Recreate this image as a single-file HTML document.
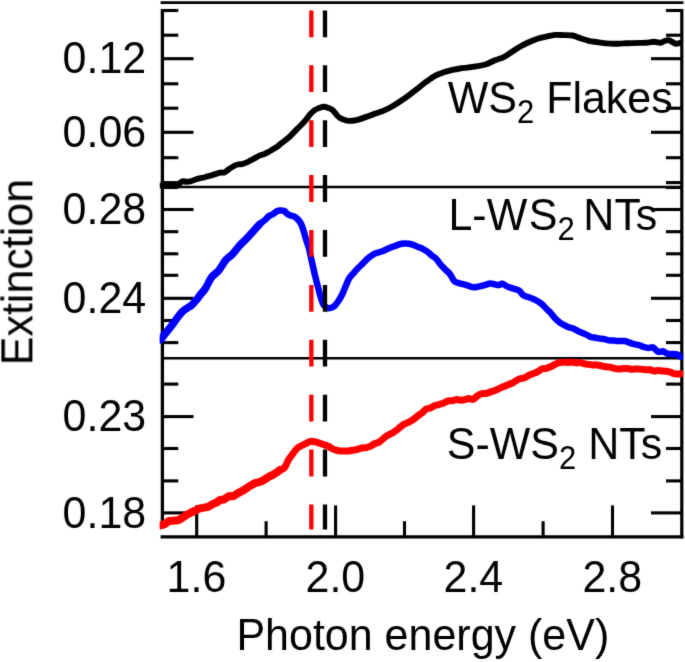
<!DOCTYPE html>
<html><head><meta charset="utf-8"><style>
html,body{margin:0;padding:0;background:#fff;}
svg{display:block;}
#w{width:685px;height:662px;}
text{font-family:"Liberation Sans",sans-serif;font-size:43px;fill:#000;}
</style></head><body><div id="w">
<svg width="685" height="662" viewBox="0 0 685 662">
<defs><filter id="bl" x="0" y="0" width="685" height="662" filterUnits="userSpaceOnUse" color-interpolation-filters="sRGB"><feConvolveMatrix order="3" kernelMatrix="0.01134 0.08382 0.01134 0.08382 0.61935 0.08382 0.01134 0.08382 0.01134" divisor="1" edgeMode="duplicate" preserveAlpha="false"/></filter></defs>
<g filter="url(#bl)">
<rect width="685" height="662" fill="#fff"/>
<g stroke="#000" fill="none">
<line x1="160.6" y1="2.65" x2="683.5" y2="2.65" stroke-width="2.9"/>
<line x1="162.4" y1="9" x2="162.4" y2="525" stroke-width="3.3"/>
<line x1="681.8" y1="9" x2="681.8" y2="538.3" stroke-width="3.2"/>
<line x1="160.6" y1="536.8" x2="683.4" y2="536.8" stroke-width="3.2"/>
<line x1="161" y1="187.0" x2="681" y2="187.0" stroke-width="2.6"/>
<line x1="161" y1="358.25" x2="681" y2="358.25" stroke-width="2.5"/>
<line x1="162.4" y1="10.5" x2="178.3" y2="10.5" stroke-width="3.1"/>
<line x1="681.8" y1="10.5" x2="666.0" y2="10.5" stroke-width="3.1"/>
<line x1="162.4" y1="35.2" x2="178.3" y2="35.2" stroke-width="3.1"/>
<line x1="681.8" y1="35.2" x2="666.0" y2="35.2" stroke-width="3.1"/>
<line x1="162.4" y1="58.7" x2="193.5" y2="58.7" stroke-width="3.1"/>
<line x1="681.8" y1="58.7" x2="651.0" y2="58.7" stroke-width="3.1"/>
<line x1="162.4" y1="83.8" x2="178.3" y2="83.8" stroke-width="3.1"/>
<line x1="681.8" y1="83.8" x2="666.0" y2="83.8" stroke-width="3.1"/>
<line x1="162.4" y1="108.2" x2="178.3" y2="108.2" stroke-width="3.1"/>
<line x1="681.8" y1="108.2" x2="666.0" y2="108.2" stroke-width="3.1"/>
<line x1="162.4" y1="132.3" x2="193.5" y2="132.3" stroke-width="3.1"/>
<line x1="681.8" y1="132.3" x2="651.0" y2="132.3" stroke-width="3.1"/>
<line x1="162.4" y1="157.7" x2="178.3" y2="157.7" stroke-width="3.1"/>
<line x1="681.8" y1="157.7" x2="666.0" y2="157.7" stroke-width="3.1"/>
<line x1="162.4" y1="182.6" x2="178.3" y2="182.6" stroke-width="3.1"/>
<line x1="681.8" y1="182.6" x2="666.0" y2="182.6" stroke-width="3.1"/>
<line x1="162.4" y1="187.5" x2="178.3" y2="187.5" stroke-width="3.1"/>
<line x1="681.8" y1="187.5" x2="666.0" y2="187.5" stroke-width="3.1"/>
<line x1="162.4" y1="209.5" x2="193.5" y2="209.5" stroke-width="3.1"/>
<line x1="681.8" y1="209.5" x2="651.0" y2="209.5" stroke-width="3.1"/>
<line x1="162.4" y1="231.7" x2="178.3" y2="231.7" stroke-width="3.1"/>
<line x1="681.8" y1="231.7" x2="666.0" y2="231.7" stroke-width="3.1"/>
<line x1="162.4" y1="253.8" x2="178.3" y2="253.8" stroke-width="3.1"/>
<line x1="681.8" y1="253.8" x2="666.0" y2="253.8" stroke-width="3.1"/>
<line x1="162.4" y1="275.3" x2="178.3" y2="275.3" stroke-width="3.1"/>
<line x1="681.8" y1="275.3" x2="666.0" y2="275.3" stroke-width="3.1"/>
<line x1="162.4" y1="298.3" x2="193.5" y2="298.3" stroke-width="3.1"/>
<line x1="681.8" y1="298.3" x2="651.0" y2="298.3" stroke-width="3.1"/>
<line x1="162.4" y1="320.5" x2="178.3" y2="320.5" stroke-width="3.1"/>
<line x1="681.8" y1="320.5" x2="666.0" y2="320.5" stroke-width="3.1"/>
<line x1="162.4" y1="342.6" x2="178.3" y2="342.6" stroke-width="3.1"/>
<line x1="681.8" y1="342.6" x2="666.0" y2="342.6" stroke-width="3.1"/>
<line x1="162.4" y1="384.1" x2="178.3" y2="384.1" stroke-width="3.1"/>
<line x1="681.8" y1="384.1" x2="666.0" y2="384.1" stroke-width="3.1"/>
<line x1="162.4" y1="416.6" x2="193.5" y2="416.6" stroke-width="3.1"/>
<line x1="681.8" y1="416.6" x2="651.0" y2="416.6" stroke-width="3.1"/>
<line x1="162.4" y1="448.5" x2="178.3" y2="448.5" stroke-width="3.1"/>
<line x1="681.8" y1="448.5" x2="666.0" y2="448.5" stroke-width="3.1"/>
<line x1="162.4" y1="480.9" x2="178.3" y2="480.9" stroke-width="3.1"/>
<line x1="681.8" y1="480.9" x2="666.0" y2="480.9" stroke-width="3.1"/>
<line x1="162.4" y1="512.9" x2="193.5" y2="512.9" stroke-width="3.1"/>
<line x1="681.8" y1="512.9" x2="651.0" y2="512.9" stroke-width="3.1"/>
<line x1="196.7" y1="505.4" x2="196.7" y2="536.8" stroke-width="3.1"/>
<line x1="266.1" y1="521.2" x2="266.1" y2="536.8" stroke-width="3.1"/>
<line x1="335.6" y1="505.4" x2="335.6" y2="536.8" stroke-width="3.1"/>
<line x1="404.5" y1="521.2" x2="404.5" y2="536.8" stroke-width="3.1"/>
<line x1="473.6" y1="505.4" x2="473.6" y2="536.8" stroke-width="3.1"/>
<line x1="543.1" y1="521.2" x2="543.1" y2="536.8" stroke-width="3.1"/>
<line x1="612.5" y1="505.4" x2="612.5" y2="536.8" stroke-width="3.1"/>
</g>
<text transform="translate(146.2,73.3) scale(1,1.045)" text-anchor="end" >0.12</text>
<text transform="translate(146.2,146.9) scale(1,1.045)" text-anchor="end" >0.06</text>
<text transform="translate(146.2,224.1) scale(1,1.045)" text-anchor="end" >0.28</text>
<text transform="translate(146.2,313.1) scale(1,1.045)" text-anchor="end" >0.24</text>
<text transform="translate(146.2,431.20000000000005) scale(1,1.045)" text-anchor="end" >0.23</text>
<text transform="translate(146.2,527.5) scale(1,1.045)" text-anchor="end" >0.18</text>
<text transform="translate(196.5,592.4) scale(1,1.045)" text-anchor="middle" >1.6</text>
<text transform="translate(335.40000000000003,592.4) scale(1,1.045)" text-anchor="middle" >2.0</text>
<text transform="translate(473.40000000000003,592.4) scale(1,1.045)" text-anchor="middle" >2.4</text>
<text transform="translate(612.3,592.4) scale(1,1.045)" text-anchor="middle" >2.8</text>
<text transform="translate(236.4,650.0) scale(1,1.045)" text-anchor="start" >Photon energy (eV)</text>
<text transform="translate(32.2,365.3) rotate(-90) scale(1,1.045)">Extinction</text>
<text transform="translate(447.7,112.5) scale(1,1.045)">WS<tspan font-size="31" dy="10">2</tspan><tspan dy="-10"> Flakes</tspan></text>
<text transform="translate(448.4,230.0) scale(1,1.045)">L-W<tspan dx="1.6">S</tspan><tspan font-size="31" dy="10">2 </tspan><tspan dy="-10">NTs</tspan></text>
<text transform="translate(446.8,458.8) scale(1,1.045)">S-WS<tspan font-size="31" dy="10">2</tspan><tspan dy="-10"> NTs</tspan></text>
<defs><clipPath id="pc"><rect x="159.8" y="0" width="523.4" height="662"/></clipPath></defs>
<g clip-path="url(#pc)">
<path d="M160.00,185.50 C161.67,185.50 167.08,185.53 170.00,185.50 C172.92,185.47 175.52,185.97 177.50,185.30 C179.48,184.63 180.43,182.10 181.90,181.50 C183.37,180.90 184.85,181.73 186.30,181.70 C187.75,181.67 189.15,181.63 190.60,181.30 C192.05,180.97 193.53,180.18 195.00,179.70 C196.47,179.22 197.93,178.77 199.40,178.40 C200.87,178.03 202.33,177.87 203.80,177.50 C205.27,177.13 206.75,176.60 208.20,176.20 C209.65,175.80 210.53,175.68 212.50,175.10 C214.47,174.52 218.02,173.15 220.00,172.70 C221.98,172.25 222.93,172.98 224.40,172.40 C225.87,171.82 227.35,170.18 228.80,169.20 C230.25,168.22 231.65,167.28 233.10,166.50 C234.55,165.72 236.03,164.90 237.50,164.50 C238.97,164.10 240.43,164.42 241.90,164.10 C243.37,163.78 244.85,163.22 246.30,162.60 C247.75,161.98 249.15,161.13 250.60,160.40 C252.05,159.67 253.53,159.00 255.00,158.20 C256.47,157.40 257.93,156.25 259.40,155.60 C260.87,154.95 262.33,154.88 263.80,154.30 C265.27,153.72 266.75,152.88 268.20,152.10 C269.65,151.32 271.05,150.48 272.50,149.60 C273.95,148.72 275.65,147.68 276.90,146.80 C278.15,145.92 278.75,145.27 280.00,144.30 C281.25,143.33 282.93,142.13 284.40,141.00 C285.87,139.87 287.35,138.82 288.80,137.50 C290.25,136.18 291.65,134.57 293.10,133.10 C294.55,131.63 296.03,130.17 297.50,128.70 C298.97,127.23 300.43,125.87 301.90,124.30 C303.37,122.73 304.85,121.05 306.30,119.30 C307.75,117.55 309.15,115.37 310.60,113.80 C312.05,112.23 313.53,110.88 315.00,109.90 C316.47,108.92 317.93,108.42 319.40,107.90 C320.87,107.38 322.33,106.80 323.80,106.80 C325.27,106.80 326.75,107.35 328.20,107.90 C329.65,108.45 331.05,108.88 332.50,110.10 C333.95,111.32 335.65,113.90 336.90,115.20 C338.15,116.50 338.82,117.15 340.00,117.90 C341.18,118.65 342.53,119.20 344.00,119.70 C345.47,120.20 346.55,120.88 348.80,120.90 C351.05,120.92 354.58,120.47 357.50,119.80 C360.42,119.13 363.38,117.93 366.30,116.90 C369.22,115.87 372.08,114.65 375.00,113.60 C377.92,112.55 380.88,111.83 383.80,110.60 C386.72,109.37 389.80,107.72 392.50,106.20 C395.20,104.68 397.28,103.32 400.00,101.50 C402.72,99.68 405.88,97.43 408.80,95.30 C411.72,93.17 414.58,90.97 417.50,88.70 C420.42,86.43 423.38,83.85 426.30,81.70 C429.22,79.55 432.08,77.37 435.00,75.80 C437.92,74.23 440.88,73.28 443.80,72.30 C446.72,71.32 449.80,70.53 452.50,69.90 C455.20,69.27 457.28,68.92 460.00,68.50 C462.72,68.08 465.88,67.80 468.80,67.40 C471.72,67.00 474.58,66.63 477.50,66.10 C480.42,65.57 483.38,65.18 486.30,64.20 C489.22,63.22 492.08,61.38 495.00,60.20 C497.92,59.02 500.88,58.55 503.80,57.10 C506.72,55.65 509.80,53.23 512.50,51.50 C515.20,49.77 517.28,48.23 520.00,46.70 C522.72,45.17 525.88,43.62 528.80,42.30 C531.72,40.98 534.58,39.75 537.50,38.80 C540.42,37.85 543.38,37.25 546.30,36.60 C549.22,35.95 552.08,35.15 555.00,34.90 C557.92,34.65 560.88,35.00 563.80,35.10 C566.72,35.20 569.80,35.00 572.50,35.50 C575.20,36.00 577.28,37.22 580.00,38.10 C582.72,38.98 585.88,40.13 588.80,40.80 C591.72,41.47 594.58,41.67 597.50,42.10 C600.42,42.53 603.38,43.12 606.30,43.40 C609.22,43.68 612.08,43.80 615.00,43.80 C617.92,43.80 620.88,43.52 623.80,43.40 C626.72,43.28 629.80,43.18 632.50,43.10 C635.20,43.02 637.73,42.97 640.00,42.90 C642.27,42.83 643.75,42.88 646.10,42.70 C648.45,42.52 651.70,41.80 654.10,41.80 C656.50,41.80 658.77,42.83 660.50,42.70 C662.23,42.57 663.15,41.43 664.50,41.00 C665.85,40.57 667.25,39.92 668.60,40.10 C669.95,40.28 671.40,41.50 672.60,42.10 C673.80,42.70 674.50,43.57 675.80,43.70 C677.10,43.83 679.63,43.03 680.40,42.90" fill="none" stroke="#000" stroke-width="5.9" stroke-linejoin="round" stroke-linecap="round"/>
<path d="M160.50,339.80 C161.22,338.87 163.33,336.07 164.80,334.20 C166.27,332.33 167.83,330.45 169.30,328.60 C170.77,326.75 172.13,325.08 173.60,323.10 C175.07,321.12 176.58,318.67 178.10,316.70 C179.62,314.73 181.18,312.73 182.70,311.30 C184.22,309.87 185.70,309.13 187.20,308.10 C188.70,307.07 190.18,306.45 191.70,305.10 C193.22,303.75 194.78,301.83 196.30,300.00 C197.82,298.17 199.30,296.00 200.80,294.10 C202.30,292.20 203.47,291.45 205.30,288.60 C207.13,285.75 209.58,279.98 211.80,277.00 C214.02,274.02 216.33,273.45 218.60,270.70 C220.87,267.95 223.13,263.22 225.40,260.50 C227.67,257.78 229.93,256.78 232.20,254.40 C234.47,252.02 236.73,248.70 239.00,246.20 C241.27,243.70 243.53,241.77 245.80,239.40 C248.07,237.03 250.33,234.48 252.60,232.00 C254.87,229.52 257.42,226.43 259.40,224.50 C261.38,222.57 262.88,221.82 264.50,220.40 C266.12,218.98 267.58,217.10 269.10,216.00 C270.62,214.90 272.30,214.60 273.60,213.80 C274.90,213.00 275.75,211.75 276.90,211.20 C278.05,210.65 279.28,210.53 280.50,210.50 C281.72,210.47 282.98,210.38 284.20,211.00 C285.42,211.62 286.58,213.42 287.80,214.20 C289.02,214.98 290.28,215.25 291.50,215.70 C292.72,216.15 293.88,216.12 295.10,216.90 C296.32,217.68 297.73,219.08 298.80,220.40 C299.87,221.72 300.67,222.95 301.50,224.80 C302.33,226.65 303.02,228.98 303.80,231.50 C304.58,234.02 305.33,237.07 306.20,239.90 C307.07,242.73 308.22,245.65 309.00,248.50 C309.78,251.35 309.93,252.65 310.90,257.00 C311.87,261.35 313.65,269.72 314.80,274.60 C315.95,279.48 316.82,282.53 317.80,286.30 C318.78,290.07 319.72,294.08 320.70,297.20 C321.68,300.32 322.55,303.20 323.70,305.00 C324.85,306.80 326.47,307.50 327.60,308.00 C328.73,308.50 329.35,308.33 330.50,308.00 C331.65,307.67 333.18,307.17 334.50,306.00 C335.82,304.83 337.10,302.97 338.40,301.00 C339.70,299.03 341.20,296.40 342.30,294.20 C343.40,292.00 343.87,290.42 345.00,287.80 C346.13,285.18 347.67,280.95 349.10,278.50 C350.53,276.05 352.10,274.83 353.60,273.10 C355.10,271.37 356.58,269.68 358.10,268.10 C359.62,266.52 361.18,265.12 362.70,263.60 C364.22,262.08 365.70,260.37 367.20,259.00 C368.70,257.63 370.18,256.38 371.70,255.40 C373.22,254.42 374.78,253.70 376.30,253.10 C377.82,252.50 379.30,252.32 380.80,251.80 C382.30,251.28 383.78,250.68 385.30,250.00 C386.82,249.32 388.38,248.32 389.90,247.70 C391.42,247.08 392.90,246.83 394.40,246.30 C395.90,245.77 397.22,244.95 398.90,244.50 C400.58,244.05 402.80,243.72 404.50,243.60 C406.20,243.48 407.58,243.57 409.10,243.80 C410.62,244.03 412.10,244.47 413.60,245.00 C415.10,245.53 416.58,246.37 418.10,247.00 C419.62,247.63 421.18,248.05 422.70,248.80 C424.22,249.55 425.70,250.40 427.20,251.50 C428.70,252.60 430.18,254.15 431.70,255.40 C433.22,256.65 434.78,257.42 436.30,259.00 C437.82,260.58 439.30,263.15 440.80,264.90 C442.30,266.65 443.78,267.98 445.30,269.50 C446.82,271.02 448.38,272.05 449.90,274.00 C451.42,275.95 452.82,279.65 454.40,281.20 C455.98,282.75 457.83,282.78 459.40,283.30 C460.97,283.82 462.35,283.92 463.80,284.30 C465.25,284.68 466.65,285.13 468.10,285.60 C469.55,286.07 471.03,286.88 472.50,287.10 C473.97,287.32 475.43,287.08 476.90,286.90 C478.37,286.72 479.85,286.33 481.30,286.00 C482.75,285.67 484.15,285.33 485.60,284.90 C487.05,284.47 488.53,283.50 490.00,283.40 C491.47,283.30 492.93,284.02 494.40,284.30 C495.87,284.58 497.48,285.18 498.80,285.10 C500.12,285.02 500.85,283.55 502.30,283.80 C503.75,284.05 505.90,285.87 507.50,286.60 C509.10,287.33 510.65,287.78 511.90,288.20 C513.15,288.62 513.80,288.70 515.00,289.10 C516.20,289.50 517.67,289.55 519.10,290.60 C520.53,291.65 522.10,294.33 523.60,295.40 C525.10,296.47 526.58,296.43 528.10,297.00 C529.62,297.57 531.18,298.13 532.70,298.80 C534.22,299.47 535.70,300.13 537.20,301.00 C538.70,301.87 540.18,302.72 541.70,304.00 C543.22,305.28 544.78,307.18 546.30,308.70 C547.82,310.22 549.30,311.47 550.80,313.10 C552.30,314.73 553.78,316.92 555.30,318.50 C556.82,320.08 558.38,321.50 559.90,322.60 C561.42,323.70 562.90,324.32 564.40,325.10 C565.90,325.88 567.33,326.70 568.90,327.30 C570.47,327.90 572.27,328.05 573.80,328.70 C575.33,329.35 576.65,330.47 578.10,331.20 C579.55,331.93 581.03,332.48 582.50,333.10 C583.97,333.72 585.43,334.23 586.90,334.90 C588.37,335.57 589.85,336.62 591.30,337.10 C592.75,337.58 594.15,337.55 595.60,337.80 C597.05,338.05 598.53,338.38 600.00,338.60 C601.47,338.82 602.93,338.80 604.40,339.10 C605.87,339.40 607.33,340.18 608.80,340.40 C610.27,340.62 611.75,340.30 613.20,340.40 C614.65,340.50 616.05,340.90 617.50,341.00 C618.95,341.10 620.65,341.00 621.90,341.00 C623.15,341.00 623.73,340.73 625.00,341.00 C626.27,341.27 627.97,342.07 629.50,342.60 C631.03,343.13 632.62,343.78 634.20,344.20 C635.78,344.62 637.42,344.63 639.00,345.10 C640.58,345.57 642.12,346.52 643.70,347.00 C645.28,347.48 646.92,347.92 648.50,348.00 C650.08,348.08 651.62,346.87 653.20,347.50 C654.78,348.13 656.42,351.17 658.00,351.80 C659.58,352.43 661.13,350.98 662.70,351.30 C664.27,351.62 665.82,353.27 667.40,353.70 C668.98,354.13 670.62,353.78 672.20,353.90 C673.78,354.02 675.48,353.92 676.90,354.40 C678.32,354.88 680.07,356.40 680.70,356.80" fill="none" stroke="#0000ff" stroke-width="6.5" stroke-linejoin="round" stroke-linecap="round"/>
<path d="M160.00,525.50 C160.73,525.28 162.93,524.90 164.40,524.20 C165.87,523.50 167.35,521.88 168.80,521.30 C170.25,520.72 171.65,520.87 173.10,520.70 C174.55,520.53 176.03,520.73 177.50,520.30 C178.97,519.87 180.43,518.95 181.90,518.10 C183.37,517.25 184.85,516.08 186.30,515.20 C187.75,514.32 189.15,513.53 190.60,512.80 C192.05,512.07 193.53,511.52 195.00,510.80 C196.47,510.08 197.93,509.03 199.40,508.50 C200.87,507.97 202.33,507.90 203.80,507.60 C205.27,507.30 206.75,507.25 208.20,506.70 C209.65,506.15 211.05,505.03 212.50,504.30 C213.95,503.57 215.65,503.02 216.90,502.30 C218.15,501.58 218.75,500.52 220.00,500.00 C221.25,499.48 222.93,499.83 224.40,499.20 C225.87,498.57 227.35,496.70 228.80,496.20 C230.25,495.70 231.65,496.65 233.10,496.20 C234.55,495.75 236.03,494.35 237.50,493.50 C238.97,492.65 240.43,491.97 241.90,491.10 C243.37,490.23 244.85,489.22 246.30,488.30 C247.75,487.38 249.15,486.45 250.60,485.60 C252.05,484.75 253.53,483.78 255.00,483.20 C256.47,482.62 257.93,482.62 259.40,482.10 C260.87,481.58 262.33,480.93 263.80,480.10 C265.27,479.27 266.75,477.93 268.20,477.10 C269.65,476.27 271.05,475.90 272.50,475.10 C273.95,474.30 275.65,473.15 276.90,472.30 C278.15,471.45 278.75,470.77 280.00,470.00 C281.25,469.23 282.93,469.48 284.40,467.70 C285.87,465.92 287.35,461.68 288.80,459.30 C290.25,456.92 291.65,455.28 293.10,453.40 C294.55,451.52 296.03,449.32 297.50,448.00 C298.97,446.68 300.43,446.28 301.90,445.50 C303.37,444.72 304.85,443.98 306.30,443.30 C307.75,442.62 309.15,441.65 310.60,441.40 C312.05,441.15 313.53,441.52 315.00,441.80 C316.47,442.08 317.93,442.63 319.40,443.10 C320.87,443.57 322.33,444.08 323.80,444.60 C325.27,445.12 326.75,445.50 328.20,446.20 C329.65,446.90 331.05,448.12 332.50,448.80 C333.95,449.48 335.65,449.93 336.90,450.30 C338.15,450.67 338.75,450.87 340.00,451.00 C341.25,451.13 342.93,451.12 344.40,451.10 C345.87,451.08 347.35,451.05 348.80,450.90 C350.25,450.75 351.65,450.47 353.10,450.20 C354.55,449.93 356.03,449.67 357.50,449.30 C358.97,448.93 360.43,448.28 361.90,448.00 C363.37,447.72 364.85,447.92 366.30,447.60 C367.75,447.28 369.15,446.78 370.60,446.10 C372.05,445.42 373.53,444.20 375.00,443.50 C376.47,442.80 377.93,442.78 379.40,441.90 C380.87,441.02 382.33,439.33 383.80,438.20 C385.27,437.07 386.75,435.95 388.20,435.10 C389.65,434.25 391.05,433.97 392.50,433.10 C393.95,432.23 395.65,430.87 396.90,429.90 C398.15,428.93 398.75,428.28 400.00,427.30 C401.25,426.32 402.93,424.85 404.40,424.00 C405.87,423.15 407.35,422.93 408.80,422.20 C410.25,421.47 411.65,420.62 413.10,419.60 C414.55,418.58 416.03,417.20 417.50,416.10 C418.97,415.00 420.43,414.17 421.90,413.00 C423.37,411.83 424.85,409.95 426.30,409.10 C427.75,408.25 429.15,408.48 430.60,407.90 C432.05,407.32 433.53,406.18 435.00,405.60 C436.47,405.02 437.93,404.83 439.40,404.40 C440.87,403.97 442.35,403.58 443.80,403.00 C445.25,402.42 446.65,401.27 448.10,400.90 C449.55,400.53 451.03,401.05 452.50,400.80 C453.97,400.55 455.65,399.52 456.90,399.40 C458.15,399.28 458.75,400.03 460.00,400.10 C461.25,400.17 462.93,400.07 464.40,399.80 C465.87,399.53 467.35,398.58 468.80,398.50 C470.25,398.42 471.65,399.75 473.10,399.30 C474.55,398.85 476.03,396.75 477.50,395.80 C478.97,394.85 480.43,393.98 481.90,393.60 C483.37,393.22 484.85,393.78 486.30,393.50 C487.75,393.22 489.15,392.38 490.60,391.90 C492.05,391.42 493.53,391.18 495.00,390.60 C496.47,390.02 497.93,389.08 499.40,388.40 C500.87,387.72 502.33,387.12 503.80,386.50 C505.27,385.88 506.75,385.28 508.20,384.70 C509.65,384.12 511.05,383.73 512.50,383.00 C513.95,382.27 515.65,381.00 516.90,380.30 C518.15,379.60 518.75,379.22 520.00,378.80 C521.25,378.38 522.93,378.37 524.40,377.80 C525.87,377.23 527.35,376.10 528.80,375.40 C530.25,374.70 531.65,374.18 533.10,373.60 C534.55,373.02 536.03,372.67 537.50,371.90 C538.97,371.13 540.43,369.58 541.90,369.00 C543.37,368.42 544.85,368.77 546.30,368.40 C547.75,368.03 549.15,367.47 550.60,366.80 C552.05,366.13 553.53,365.08 555.00,364.40 C556.47,363.72 557.93,363.05 559.40,362.70 C560.87,362.35 562.33,362.35 563.80,362.30 C565.27,362.25 566.75,362.40 568.20,362.40 C569.65,362.40 571.05,362.22 572.50,362.30 C573.95,362.38 575.75,362.88 576.90,362.90 C578.05,362.92 578.25,362.28 579.40,362.40 C580.55,362.52 582.35,363.27 583.80,363.60 C585.25,363.93 586.65,364.18 588.10,364.40 C589.55,364.62 591.03,364.82 592.50,364.90 C593.97,364.98 595.43,364.75 596.90,364.90 C598.37,365.05 599.85,365.48 601.30,365.80 C602.75,366.12 604.15,366.58 605.60,366.80 C607.05,367.02 608.53,366.83 610.00,367.10 C611.47,367.37 612.93,368.08 614.40,368.40 C615.87,368.72 617.33,368.97 618.80,369.00 C620.27,369.03 621.75,368.67 623.20,368.60 C624.65,368.53 626.05,368.48 627.50,368.60 C628.95,368.72 630.65,369.23 631.90,369.30 C633.15,369.37 633.98,369.07 635.00,369.00 C636.02,368.93 636.83,368.85 638.00,368.90 C639.17,368.95 640.65,369.17 642.00,369.30 C643.35,369.43 644.75,369.62 646.10,369.70 C647.45,369.78 648.77,369.60 650.10,369.80 C651.43,370.00 652.77,370.78 654.10,370.90 C655.43,371.02 656.77,370.50 658.10,370.50 C659.43,370.50 660.77,370.77 662.10,370.90 C663.43,371.03 664.75,371.10 666.10,371.30 C667.45,371.50 668.85,371.70 670.20,372.10 C671.55,372.50 672.87,373.37 674.20,373.70 C675.53,374.03 677.00,374.10 678.20,374.10 C679.40,374.10 680.87,373.77 681.40,373.70" fill="none" stroke="#ff0000" stroke-width="7.0" stroke-linejoin="round" stroke-linecap="round"/>
<path d="M160.50,339.80 C161.22,338.87 163.33,336.07 164.80,334.20 C166.27,332.33 167.83,330.45 169.30,328.60 C170.77,326.75 172.13,325.08 173.60,323.10 C175.07,321.12 176.58,318.67 178.10,316.70 C179.62,314.73 181.18,312.73 182.70,311.30 C184.22,309.87 185.70,309.13 187.20,308.10 C188.70,307.07 190.18,306.45 191.70,305.10 C193.22,303.75 194.78,301.83 196.30,300.00 C197.82,298.17 199.30,296.00 200.80,294.10 C202.30,292.20 203.47,291.45 205.30,288.60 C207.13,285.75 209.58,279.98 211.80,277.00 C214.02,274.02 216.33,273.45 218.60,270.70 C220.87,267.95 223.13,263.22 225.40,260.50 C227.67,257.78 229.93,256.78 232.20,254.40 C234.47,252.02 236.73,248.70 239.00,246.20 C241.27,243.70 243.53,241.77 245.80,239.40 C248.07,237.03 250.33,234.48 252.60,232.00 C254.87,229.52 258.27,225.75 259.40,224.50" fill="none" stroke="#0000ff" stroke-width="7.6" stroke-linejoin="round" stroke-linecap="round"/>
<path d="M160.00,525.50 C160.73,525.28 162.93,524.90 164.40,524.20 C165.87,523.50 167.35,521.88 168.80,521.30 C170.25,520.72 171.65,520.87 173.10,520.70 C174.55,520.53 176.03,520.73 177.50,520.30 C178.97,519.87 180.43,518.95 181.90,518.10 C183.37,517.25 184.85,516.08 186.30,515.20 C187.75,514.32 189.15,513.53 190.60,512.80 C192.05,512.07 193.53,511.52 195.00,510.80 C196.47,510.08 197.93,509.03 199.40,508.50 C200.87,507.97 202.33,507.90 203.80,507.60 C205.27,507.30 206.75,507.25 208.20,506.70 C209.65,506.15 211.05,505.03 212.50,504.30 C213.95,503.57 215.65,503.02 216.90,502.30 C218.15,501.58 218.75,500.52 220.00,500.00 C221.25,499.48 222.93,499.83 224.40,499.20 C225.87,498.57 227.35,496.70 228.80,496.20 C230.25,495.70 231.65,496.65 233.10,496.20 C234.55,495.75 236.03,494.35 237.50,493.50 C238.97,492.65 240.43,491.97 241.90,491.10 C243.37,490.23 244.85,489.22 246.30,488.30 C247.75,487.38 249.15,486.45 250.60,485.60 C252.05,484.75 253.53,483.78 255.00,483.20 C256.47,482.62 257.93,482.62 259.40,482.10 C260.87,481.58 262.33,480.93 263.80,480.10 C265.27,479.27 266.75,477.93 268.20,477.10 C269.65,476.27 271.05,475.90 272.50,475.10 C273.95,474.30 275.65,473.15 276.90,472.30 C278.15,471.45 279.48,470.38 280.00,470.00" fill="none" stroke="#ff0000" stroke-width="8.0" stroke-linejoin="round" stroke-linecap="round"/>
</g>
<line x1="311.35" y1="10.4" x2="311.35" y2="529.6" stroke="#ff0000" stroke-width="4.3" stroke-dasharray="26.8 28.1"/>
<line x1="325.0" y1="10.4" x2="325.0" y2="529.6" stroke="#000" stroke-width="4.3" stroke-dasharray="26.8 28.1"/>
</g>
</svg></div>
</body></html>
